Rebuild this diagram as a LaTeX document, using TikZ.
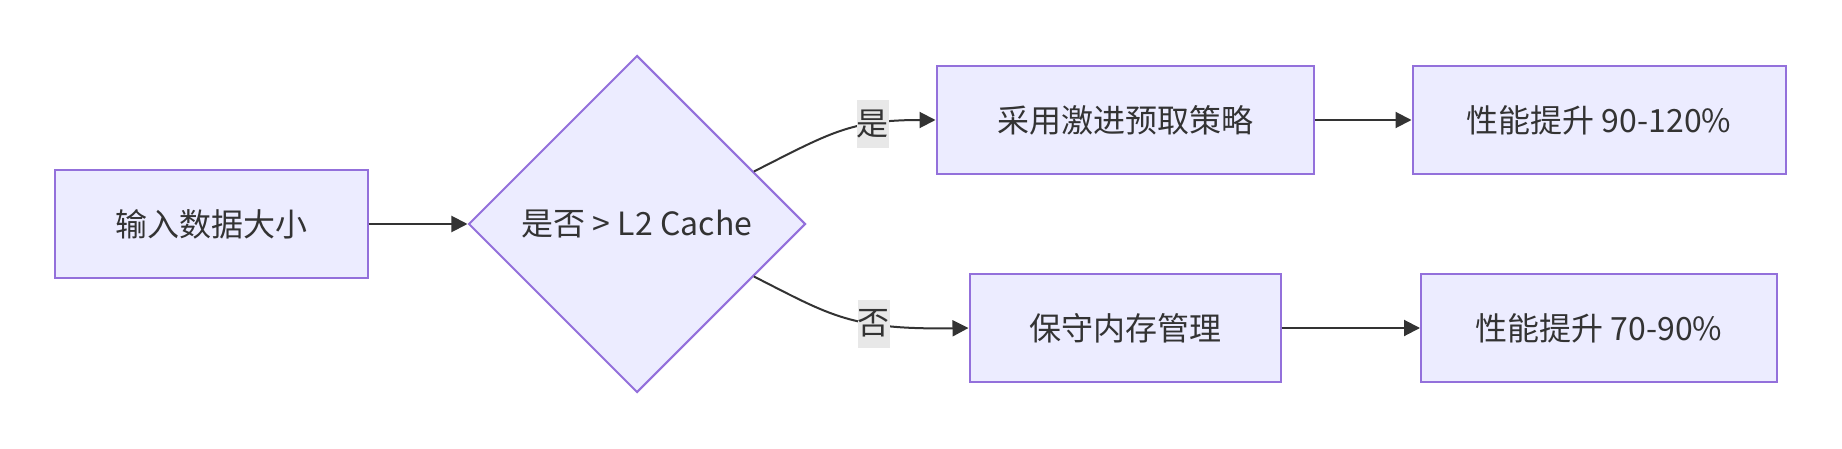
\documentclass[tikz,border=0pt]{standalone}
\usepackage{fontspec}
\setmainfont{Noto Sans CJK SC}
\usetikzlibrary{shapes.geometric,arrows.meta,calc}
\definecolor{boxfill}{HTML}{ECECFF}
\definecolor{boxline}{HTML}{9370DB}
\definecolor{ink}{HTML}{333333}
\definecolor{labelbg}{HTML}{E8E8E8}
\begin{document}
\begin{tikzpicture}[x=0.5pt,y=-0.5pt]
    \tikzstyle{arrow} = [-{Triangle[length=8pt,width=8pt]}, line width=1pt, draw=ink]
    \tikzstyle{rec} = [rectangle, draw=boxline, fill=boxfill, line width=1pt,
        text=ink, align=center, minimum height=54pt, font=\fontsize{16}{20}\selectfont]
    \tikzstyle{dec} = [diamond, draw=boxline, fill=boxfill, line width=1pt,
        text=ink, inner sep=0pt, minimum width=168.5pt, minimum height=168.5pt,
        font=\fontsize{16}{20}\selectfont]
    \tikzstyle{elabel} = [rectangle, fill=labelbg, text=ink, inner sep=0pt,
        minimum width=16pt, minimum height=24pt, font=\fontsize{16}{20}\selectfont]

    \useasboundingbox (0,0) rectangle (1842,449);

    \node(input) [rec, minimum width=156.5pt]
        at (211,224)
        {输入数据大小};
    \node(check) [dec]
        at (637,224)
        {是否 > L2 Cache};
    \node(aggressive) [rec, minimum width=188.5pt]
        at (1125,120)
        {采用激进预取策略};
    \node(gainhigh) [rec, minimum width=186.5pt,
        right of=aggressive, node distance=237pt]
        {性能提升 90-120\%};
    \node(conservative) [rec, minimum width=155.5pt,
        below of=aggressive, node distance=104pt]
        {保守内存管理};
    \node(gainlow) [rec, minimum width=178pt,
        right of=conservative, node distance=237pt]
        {性能提升 70-90\%};

    \coordinate(yesstart) at ($(check.east)!0.31!(check.north)$);
    \coordinate(nostart) at ($(check.east)!0.31!(check.south)$);

    \draw[arrow] (input) -- (check);
    \draw[arrow] (yesstart) .. controls (830,133) and (850,120) ..
        node[elabel, pos=0.7] {是} (aggressive.west);
    \draw[arrow] (nostart) .. controls (830,315) and (850,330) ..
        node[elabel, pos=0.65] {否} (conservative.west);
    \draw[arrow] (aggressive) -- (gainhigh);
    \draw[arrow] (conservative) -- (gainlow);
\end{tikzpicture}
\end{document}
